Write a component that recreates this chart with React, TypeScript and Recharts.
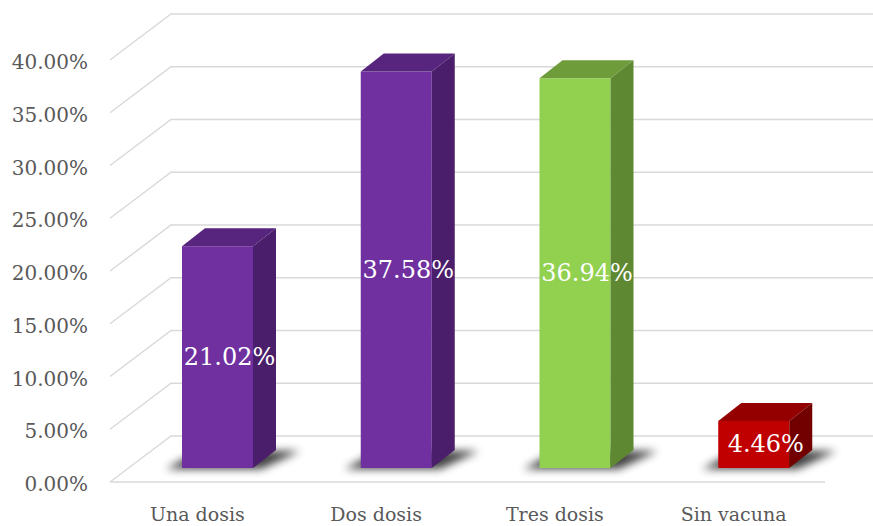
import React from "react";
import { BarChart, Bar, XAxis, YAxis, CartesianGrid, LabelList } from "recharts";

if (typeof document !== "undefined") {
  document.body.style.margin = "0";
}

const categories = ["Una dosis", "Dos dosis", "Tres dosis", "Sin vacuna"];
const values = [21.02, 37.58, 36.94, 4.46];
const yTicks = [0, 5, 10, 15, 20, 25, 30, 35, 40];
const frontColors = ["#7030A0", "#7030A0", "#92D050", "#C00000"];
const topColors = ["#57247e", "#57247e", "#6f9c3b", "#940000"];
const sideColors = ["#4a1e6b", "#4a1e6b", "#5f8833", "#730000"];

const data = categories.map((name, i) => ({ name, value: values[i] }));

const CHART_W = 873;
const CHART_H = 526;
const FLOOR_DX = 61;
const FLOOR_DY = 46;
const OFF_X = 18;
const OFF_Y = 14;
const DEPTH_X = 23;
const DEPTH_Y = 18;
const FONT = "'DejaVu Serif', serif";

const GridLine = (props: any) => {
  const x1 = Number(props.x1);
  const x2 = Number(props.x2);
  const y = Number(props.y1);
  const bottom = Number(props.y) + Number(props.height);
  const isFloor = Math.abs(y - bottom) < 1;
  return (
    <g>
      <polyline
        points={`${x1},${y} ${x1 + FLOOR_DX},${y - FLOOR_DY} ${CHART_W},${y - FLOOR_DY}`}
        fill="none"
        stroke="#d9d9d9"
        strokeWidth={1.5}
      />
      {isFloor && <line x1={x1} y1={y} x2={x2} y2={y} stroke="#d9d9d9" strokeWidth={1.5} />}
    </g>
  );
};

const YTick = (props: any) => {
  const { y, payload } = props;
  return (
    <text
      x={88}
      y={Number(y) + 2}
      textAnchor="end"
      dominantBaseline="central"
      fontFamily={FONT}
      fontSize={20}
      fill="#595959"
    >
      {Number(payload.value).toFixed(2)}%
    </text>
  );
};

const XTick = (props: any) => {
  const { x, y, payload } = props;
  return (
    <text
      x={Number(x) - 2}
      y={Number(y) + 24}
      textAnchor="middle"
      dominantBaseline="central"
      fontFamily={FONT}
      fontSize={19}
      fill="#595959"
    >
      {payload.value}
    </text>
  );
};

const Bar3D = (props: any) => {
  const x = Number(props.x);
  const y = Number(props.y);
  const w = Number(props.width);
  const h = Number(props.height);
  const i = props.index ?? 0;
  const fx = x + OFF_X;
  const fy = y - OFF_Y;
  const bottom = fy + h;
  return (
    <g>
      <defs>
        <filter id={`shadowBlur${i}`} x="-50%" y="-200%" width="200%" height="500%">
          <feGaussianBlur stdDeviation="4" />
        </filter>
      </defs>
      <polygon
        points={`${fx - 16},${bottom + 1} ${fx + w + 8},${bottom + 1} ${fx + w + DEPTH_X + 24},${bottom - DEPTH_Y + 1} ${fx + DEPTH_X - 6},${bottom - DEPTH_Y + 1}`}
        fill="#000"
        opacity={0.75}
        filter={`url(#shadowBlur${i})`}
      />
      <rect x={fx} y={fy} width={w} height={h} fill={frontColors[i]} />
      <polygon
        points={`${fx},${fy} ${fx + DEPTH_X},${fy - DEPTH_Y} ${fx + w + DEPTH_X},${fy - DEPTH_Y} ${fx + w},${fy}`}
        fill={topColors[i]}
      />
      <polygon
        points={`${fx + w},${fy} ${fx + w + DEPTH_X},${fy - DEPTH_Y} ${fx + w + DEPTH_X},${bottom - DEPTH_Y} ${fx + w},${bottom}`}
        fill={sideColors[i]}
      />
    </g>
  );
};

const renderLabel = (props: any) => {
  const x = Number(props.x);
  const y = Number(props.y);
  const w = Number(props.width);
  const h = Number(props.height);
  const cx = x + OFF_X + w / 2 + 12;
  const cy = y - OFF_Y + h / 2;
  return (
    <text
      x={cx}
      y={cy}
      fill="#ffffff"
      fontSize={24}
      textAnchor="middle"
      dominantBaseline="central"
      fontFamily={FONT}
    >
      {Number(props.value).toFixed(2)}%
    </text>
  );
};

export default function App() {
  return (
    <div style={{ width: CHART_W, height: CHART_H, background: "#fff" }}>
      <BarChart
        width={CHART_W}
        height={CHART_H}
        data={data}
        margin={{ top: 60, right: 48, left: 0, bottom: 0 }}
        barSize={71}
      >
        <CartesianGrid vertical={false} horizontal={GridLine as any} />
        <XAxis
          dataKey="name"
          height={44}
          axisLine={false}
          tickLine={false}
          tick={<XTick />}
          interval={0}
        />
        <YAxis
          type="number"
          domain={[0, 40]}
          ticks={yTicks}
          width={110}
          axisLine={false}
          tickLine={false}
          tick={<YTick />}
          interval={0}
        />
        <Bar dataKey="value" shape={<Bar3D />} isAnimationActive={false}>
          <LabelList dataKey="value" content={renderLabel} />
        </Bar>
      </BarChart>
    </div>
  );
}
